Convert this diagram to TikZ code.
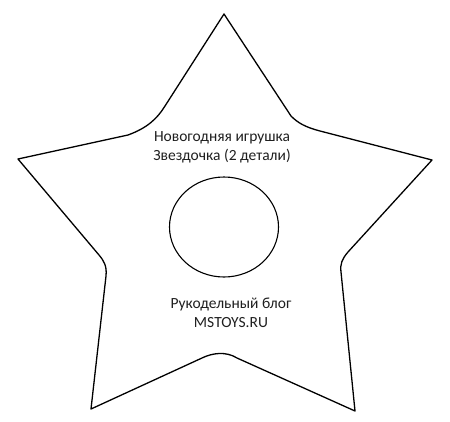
\documentclass[tikz,border=0pt]{standalone}
\usepackage{fontspec}
\setmainfont{Carlito}
\begin{document}
\begin{tikzpicture}[x=1pt,y=-1pt,
  outline/.style={draw=black,line width=1.3pt,line join=round},
  label/.style={align=center,font=\fontsize{15.5}{19}\selectfont,text=black!88,inner sep=0pt}]
\useasboundingbox (0,0) rectangle (450,421);
\draw[outline] (224,14) -- (165,106) .. controls (157,119) and (147,128) .. (128,135)
  -- (18,159) -- (99,255) .. controls (104,261) and (107,266) .. (106,276)
  -- (91,409) -- (202,358) .. controls (212,353) and (226,351) .. (237,358)
  -- (355,411) -- (341,272) .. controls (340,264) and (342,259) .. (348,252)
  -- (432,160) -- (320,131) .. controls (305,127) and (298,123) .. (291,116)
  -- cycle;
\draw[outline,line width=1.1pt] (224,227) ellipse [x radius=54.5, y radius=50];
\node[label] (title) at (222,147.5) {Новогодняя игрушка\\Звездочка (2 детали)};
\node[label] (blog) at (231,312.5) {Рукодельный блог\\MSTOYS.RU};
\end{tikzpicture}
\end{document}
